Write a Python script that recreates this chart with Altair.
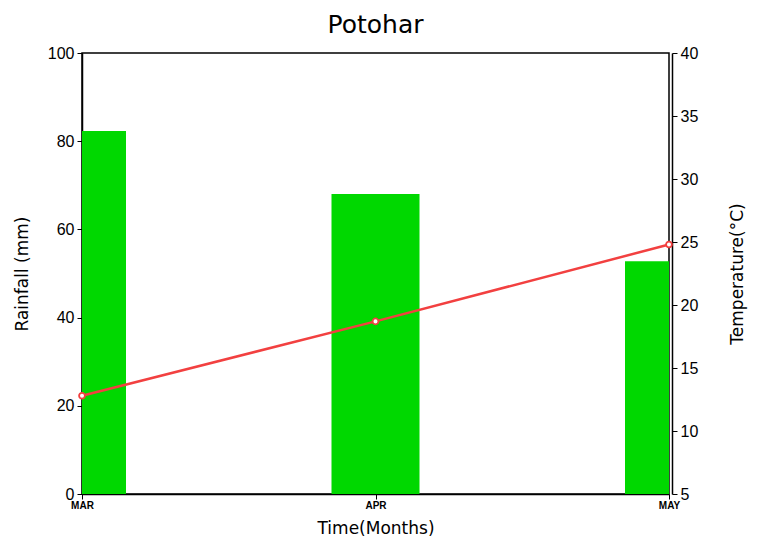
import json
import altair as alt
import pandas as pd

months = ["MAR", "APR", "MAY"]
month_index = [0, 1, 2]
rainfall = [82.3, 68.0, 52.8]
temperature = [12.8, 18.7, 24.8]

df = pd.DataFrame({"idx": month_index, "month": months, "rain": rainfall, "temp": temperature})

FONT = "Liberation Sans Narrow, Liberation Sans, DejaVu Sans"
RED = "#f24040"
GREEN = "#00d800"

label_expr = json.dumps(months) + "[datum.value]"

x_enc = alt.X(
    "idx:Q",
    scale=alt.Scale(domain=[0, 2], nice=False, zero=False, padding=0),
    axis=alt.Axis(
        values=month_index,
        labelExpr=label_expr,
        title="Time(Months)",
        labelFont=FONT,
        labelFontSize=10,
        labelFontWeight="bold",
        labelColor="black",
        tickColor="black",
        domainColor="black",
        domainWidth=1.5,
        tickSize=5,
        labelPadding=1,
        grid=False,
        titleFont="DejaVu Sans",
        titleFontSize=17,
        titleFontWeight="normal",
        titleColor="black",
        titlePadding=10,
        labelFlush=False,
    ),
)

bars = alt.Chart(df).mark_bar(color=GREEN, width=88, clip=True).encode(
    x=x_enc,
    y=alt.Y(
        "rain:Q",
        scale=alt.Scale(domain=[0, 100], nice=False),
        axis=alt.Axis(
            values=[0, 20, 40, 60, 80, 100],
            title="Rainfall  (mm)",
            orient="left",
            grid=False,
            labelFont=FONT,
            labelFontSize=16,
            labelColor="black",
            tickColor="black",
            domainColor="black",
            domainWidth=1.5,
            tickSize=5,
            labelPadding=3,
            titleFont="DejaVu Sans",
            titleFontSize=17,
            titleFontWeight="normal",
            titleColor="black",
            titlePadding=16,
        ),
    ),
)

line = alt.Chart(df).mark_line(
    color=RED,
    strokeWidth=2.5,
    point=alt.OverlayMarkDef(filled=True, fill="white", stroke=RED, strokeWidth=1.8, size=34),
).encode(
    x=alt.X("idx:Q"),
    y=alt.Y(
        "temp:Q",
        scale=alt.Scale(domain=[5, 40], nice=False, zero=False),
        axis=alt.Axis(
            values=[5, 10, 15, 20, 25, 30, 35, 40],
            title="Temperature(°C)",
            orient="right",
            grid=False,
            offset=3,
            labelFont=FONT,
            labelFontSize=16,
            labelColor="black",
            tickColor="black",
            domainColor="black",
            domainWidth=1.5,
            tickSize=5,
            labelPadding=3,
            titleFont="DejaVu Sans",
            titleFontSize=17,
            titleFontWeight="normal",
            titleColor="black",
            titleAngle=-90,
            titleBaseline="bottom",
            titlePadding=49,
        ),
    ),
)

chart = (
    alt.layer(bars, line)
    .resolve_scale(y="independent")
    .properties(
        width=587,
        height=441,
        autosize="none",
        padding={"left": 74, "top": 45, "right": 80, "bottom": 42},
        title=alt.TitleParams(
            "Potohar",
            font="DejaVu Sans",
            fontSize=25,
            fontWeight="normal",
            color="black",
            offset=7,
        ),
    )
    .configure_view(stroke="black", strokeWidth=1.5)
)

chart.save("out.html", embed_options={"renderer": "svg", "actions": False})
